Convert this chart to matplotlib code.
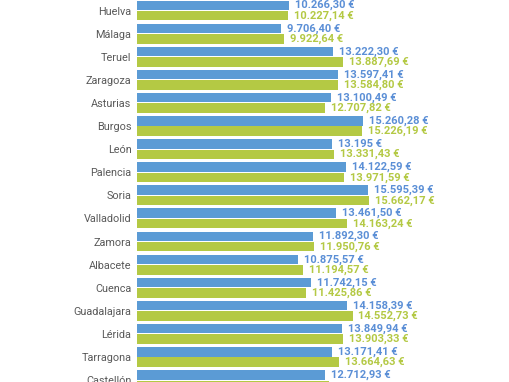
import numpy as np
import matplotlib.pyplot as plt

provincias = ['Huelva', 'Málaga', 'Teruel', 'Zaragoza', 'Asturias', 'Burgos', 'León',
              'Palencia', 'Soria', 'Valladolid', 'Zamora', 'Albacete', 'Cuenca',
              'Guadalajara', 'Lérida', 'Tarragona', 'Castellón']
serie_azul = [10266.30, 9706.40, 13222.30, 13597.41, 13100.49, 15260.28, 13195.00,
              14122.59, 15595.39, 13461.50, 11892.30, 10875.57, 11742.15,
              14158.39, 13849.94, 13171.41, 12712.93]
serie_verde = [10227.14, 9922.64, 13887.69, 13584.80, 12707.82, 15226.19, 13331.43,
               13971.59, 15662.17, 14163.24, 11950.76, 11194.57, 11425.86,
               14552.73, 13903.33, 13664.63, 12965.20]

AZUL = '#5b9bd5'
VERDE = '#b4c944'
AZUL_TXT = '#5b8fd6'
VERDE_TXT = '#b4c944'


def euros(v):
    # formato espanol: miles con punto, decimales con coma
    if float(v).is_integer():
        s = '{:,.0f}'.format(v)
    else:
        s = '{:,.2f}'.format(v)
    s = s.replace(',', 'X').replace('.', ',').replace('X', '.')
    return s + ' €'


fig = plt.figure(figsize=(5.10, 3.82), dpi=100)
ax = fig.add_axes([137 / 510, 0, 1 - 137 / 510, 1])

y = np.arange(len(provincias))
h = 0.41
ax.barh(y - 0.225, serie_azul, height=h, color=AZUL, linewidth=0)
ax.barh(y + 0.225, serie_verde, height=h, color=VERDE, linewidth=0)

for i in range(len(provincias)):
    ax.annotate(euros(serie_azul[i]), (serie_azul[i], y[i] - 0.225), xytext=(4.3, 0),
                textcoords='offset points', va='center', ha='left', color=AZUL_TXT,
                fontsize=8, fontweight='bold', family='Roboto')
    ax.annotate(euros(serie_verde[i]), (serie_verde[i], y[i] + 0.225), xytext=(4.3, 0),
                textcoords='offset points', va='center', ha='left', color=VERDE_TXT,
                fontsize=8, fontweight='bold', family='Roboto')

ax.set_yticks(y)
ax.set_yticklabels(provincias, fontsize=7.8, color='#595959', family='Roboto')
ax.tick_params(axis='y', length=0, pad=4)
ax.set_xticks([])
ax.set_xlim(0, 373 / 0.01481)
ax.set_ylim(-0.455 + 382 / 23.1, -0.455)
for s in ax.spines.values():
    s.set_visible(False)

fig.savefig('out.png', dpi=100)
